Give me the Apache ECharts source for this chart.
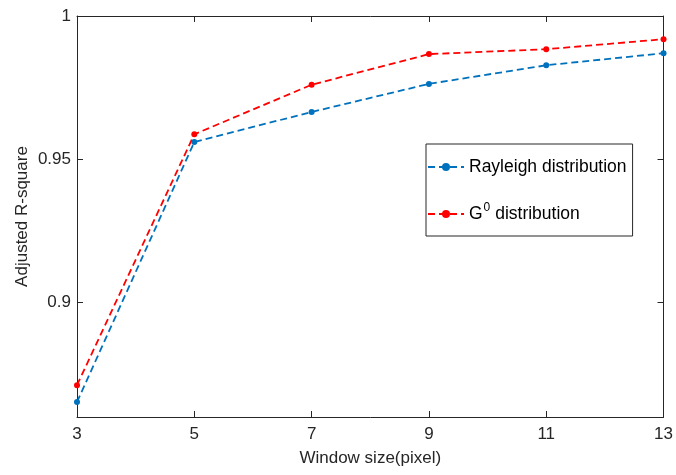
<!DOCTYPE html>
<html>
<head>
<meta charset="utf-8">
<script src="https://cdn.jsdelivr.net/npm/echarts@6/dist/echarts.min.js"></script>
<style>html,body{margin:0;padding:0;background:#fff}#c{width:676px;height:475px}</style>
</head>
<body>
<div id="c"></div>
<script>
var windowSizes = [3, 5, 7, 9, 11, 13];
var rayleigh = [0.8652, 0.9560, 0.9665, 0.9763, 0.9828, 0.9870];
var g0 = [0.8711, 0.9587, 0.9760, 0.9867, 0.9884, 0.9919];
var yTicks = [0.9, 0.95, 1];

function pairs(xs, ys) { return xs.map(function (x, i) { return [x, ys[i]]; }); }

var font = 'Liberation Sans, Arial, sans-serif';
var axisCol = '#262626';
var chart = echarts.init(document.getElementById('c'));
chart.setOption({
  animation: false,
  backgroundColor: '#fff',
  grid: { left: 77, right: 12, top: 16, bottom: 58 },
  legend: {
    orient: 'vertical',
    left: 426, top: 144,
    padding: [14, 6, 13, 1],
    itemGap: 26,
    itemWidth: 36, itemHeight: 10,
    borderColor: axisCol, borderWidth: 1,
    backgroundColor: '#fff',
    textStyle: {
      fontFamily: font, fontSize: 17.5, color: '#000',
      rich: { sup: { fontSize: 12, verticalAlign: 'top', padding: [0, 0, 12, 1], fontFamily: font, color: '#000' },
              n: { fontSize: 17.5, fontFamily: font, color: '#000' } }
    },
    formatter: function (name) {
      if (name === 'G0 distribution') return '{n|G}{sup|0}{n| distribution}';
      return name;
    },
    data: ['Rayleigh distribution', 'G0 distribution']
  },
  xAxis: [{
    type: 'value', min: 3, max: 13, interval: 2,
    name: 'Window size(pixel)', nameLocation: 'middle', nameGap: 33, nameMoveOverlap: false,
    nameTextStyle: { fontFamily: font, fontSize: 17, color: axisCol },
    axisLine: { lineStyle: { color: axisCol, width: 1 } },
    axisTick: { inside: true, length: 6, lineStyle: { color: axisCol } },
    axisLabel: { fontFamily: font, fontSize: 17, color: axisCol, margin: 9 },
    splitLine: { show: false }
  }, {
    type: 'value', min: 3, max: 13, interval: 2, position: 'top',
    axisLine: { lineStyle: { color: axisCol, width: 1 } },
    axisTick: { inside: true, length: 6, lineStyle: { color: axisCol } },
    axisLabel: { show: false }, splitLine: { show: false }
  }],
  yAxis: [{
    type: 'value', min: 0.86, max: 1,
    name: 'Adjusted R-square', nameLocation: 'middle', nameGap: 46, nameMoveOverlap: false,
    nameTextStyle: { fontFamily: font, fontSize: 17, color: axisCol },
    axisLine: { lineStyle: { color: axisCol, width: 1 } },
    axisTick: { inside: true, length: 6, lineStyle: { color: axisCol }, customValues: yTicks },
    axisLabel: { fontFamily: font, fontSize: 17, color: axisCol, margin: 6, customValues: yTicks,
      formatter: function (v) { return String(+v.toFixed(2)); } },
    splitLine: { show: false }
  }, {
    type: 'value', min: 0.86, max: 1, position: 'right',
    axisLine: { lineStyle: { color: axisCol, width: 1 } },
    axisTick: { inside: true, length: 6, lineStyle: { color: axisCol }, customValues: yTicks },
    axisLabel: { show: false }, splitLine: { show: false }
  }],
  series: [{
    name: 'Rayleigh distribution', type: 'line', xAxisIndex: 0, yAxisIndex: 0,
    data: pairs(windowSizes, rayleigh),
    symbol: 'circle', symbolSize: 6,
    lineStyle: { color: '#0072BD', width: 1.8, type: [7, 4] },
    itemStyle: { color: '#0072BD' }
  }, {
    name: 'G0 distribution', type: 'line', xAxisIndex: 0, yAxisIndex: 0,
    data: pairs(windowSizes, g0),
    symbol: 'circle', symbolSize: 6,
    lineStyle: { color: '#FF0000', width: 1.8, type: [7, 4] },
    itemStyle: { color: '#FF0000' }
  }]
});
</script>
</body>
</html>
